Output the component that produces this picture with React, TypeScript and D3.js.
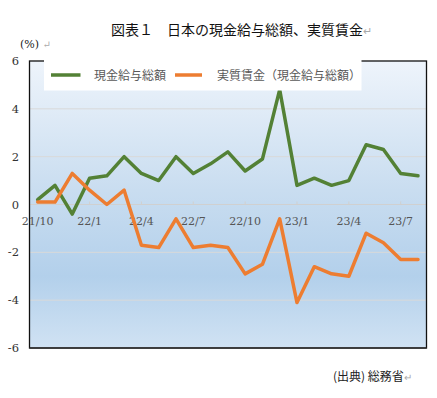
import React from 'react';
import * as d3 from 'd3';

// 月次（前年同月比, %）
const months = [
  '21/10', '21/11', '21/12', '22/1', '22/2', '22/3', '22/4', '22/5', '22/6', '22/7', '22/8', '22/9',
  '22/10', '22/11', '22/12', '23/1', '23/2', '23/3', '23/4', '23/5', '23/6', '23/7', '23/8',
];
const nominalWage = [0.2, 0.8, -0.4, 1.1, 1.2, 2.0, 1.3, 1.0, 2.0, 1.3, 1.7, 2.2, 1.4, 1.9, 4.8, 0.8, 1.1, 0.8, 1.0, 2.5, 2.3, 1.3, 1.2];
const realWage = [0.1, 0.1, 1.3, 0.6, 0.0, 0.6, -1.7, -1.8, -0.6, -1.8, -1.7, -1.8, -2.9, -2.5, -0.6, -4.1, -2.6, -2.9, -3.0, -1.2, -1.6, -2.3, -2.3];
const xTickLabels = ['21/10', '22/1', '22/4', '22/7', '22/10', '23/1', '23/4', '23/7'];
const yTicks = [-6, -4, -2, 0, 2, 4, 6];
const seriesNames = ['現金給与総額', '実質賃金（現金給与総額）'];
const seriesColors = ['#538135', '#ED7D31'];

const W = 437;
const H = 398;
const plot = { left: 29.5, right: 426.5, top: 61, bottom: 348 };
const jp = '"Noto Sans CJK JP", "Noto Sans", sans-serif';
const serif = '"DejaVu Serif", "Liberation Serif", serif';

const App = () => {
  const x = d3.scalePoint<string>()
    .domain(months)
    .range([37.7, 418]);
  const y = d3.scaleLinear()
    .domain([-6, 6])
    .range([plot.bottom, plot.top]);

  const line = d3.line<number>()
    .x((_, i) => x(months[i]) as number)
    .y(d => y(d));

  const series = [nominalWage, realWage];

  return (
    <div style={{ position: 'absolute', left: 0, top: 0 }}>
      <svg width={W} height={H} style={{ display: 'block', background: '#fff' }}>
        <defs>
          <linearGradient id="bg" x1="0" y1="0" x2="0" y2="1">
            <stop offset="0" stopColor="#eef4fb" />
            <stop offset="0.45" stopColor="#c9ddf0" />
            <stop offset="0.75" stopColor="#b3d0eb" />
            <stop offset="1" stopColor="#d0e2f3" />
          </linearGradient>
        </defs>

        {/* タイトル */}
        <text x={111} y={35} fontFamily={jp} fontSize={14} fill="#111">
          図表１　日本の現金給与総額、実質賃金<tspan fill="#aaa" fontSize={11}>↵</tspan>
        </text>
        <text x={20} y={48} fontFamily={serif} fontSize={11} fill="#222">
          (%) <tspan fill="#aaa" fontSize={10}>↵</tspan>
        </text>

        {/* プロット領域 */}
        <rect x={plot.left} y={plot.top} width={plot.right - plot.left} height={plot.bottom - plot.top} fill="url(#bg)" />

        {yTicks.filter(t => t > -6 && t < 6).map(t => (
          <line key={t} x1={plot.left} x2={plot.right} y1={y(t)} y2={y(t)}
            stroke={t === 0 ? '#d0d0d0' : '#d9d9d9'} strokeWidth={1} />
        ))}
        {xTickLabels.map(l => (
          <line key={'t' + l} x1={x(l)} x2={x(l)} y1={y(0) - 3} y2={y(0)} stroke="#d0d0d0" />
        ))}

        {yTicks.map(t => (
          <text key={'y' + t} x={19} y={y(t) + 4} textAnchor="end" fontFamily={serif} fontSize={11.5} fill="#333">
            {t}
          </text>
        ))}
        {xTickLabels.map(l => (
          <text key={'x' + l} x={x(l)} y={y(0) + 20} textAnchor="middle" fontFamily={serif} fontSize={11} fill="#555">
            {l}
          </text>
        ))}

        {series.map((s, i) => (
          <path key={i} d={line(s) || ''} fill="none" stroke={seriesColors[i]} strokeWidth={3.5}
            strokeLinejoin="round" strokeLinecap="round" />
        ))}

        {/* 枠線 */}
        <rect x={plot.left} y={plot.top} width={plot.right - plot.left} height={plot.bottom - plot.top}
          fill="none" stroke="#111" strokeWidth={1.3} />
        <line x1={plot.left} x2={plot.right} y1={plot.bottom} y2={plot.bottom} stroke="#333" strokeWidth={1.5} />

        {/* 凡例 */}
        <rect x={44} y={plot.top - 1} width={317.5} height={30.5} fill="#fff" />
        <line x1={51} x2={80.5} y1={75} y2={75} stroke={seriesColors[0]} strokeWidth={3.5} />
        <text x={94} y={79.5} fontFamily={jp} fontSize={12} fill="#595959">{seriesNames[0]}</text>
        <line x1={175} x2={202} y1={75} y2={75} stroke={seriesColors[1]} strokeWidth={3.5} />
        <text x={217} y={79.5} fontFamily={jp} fontSize={12} fill="#595959">{seriesNames[1]}</text>

        {/* 出典 */}
        <text x={333} y={381} fontFamily={jp} fontSize={12} fill="#222">
          (出典) 総務省<tspan fill="#aaa" fontSize={10}>↵</tspan>
        </text>
      </svg>
    </div>
  );
};

export default App;
